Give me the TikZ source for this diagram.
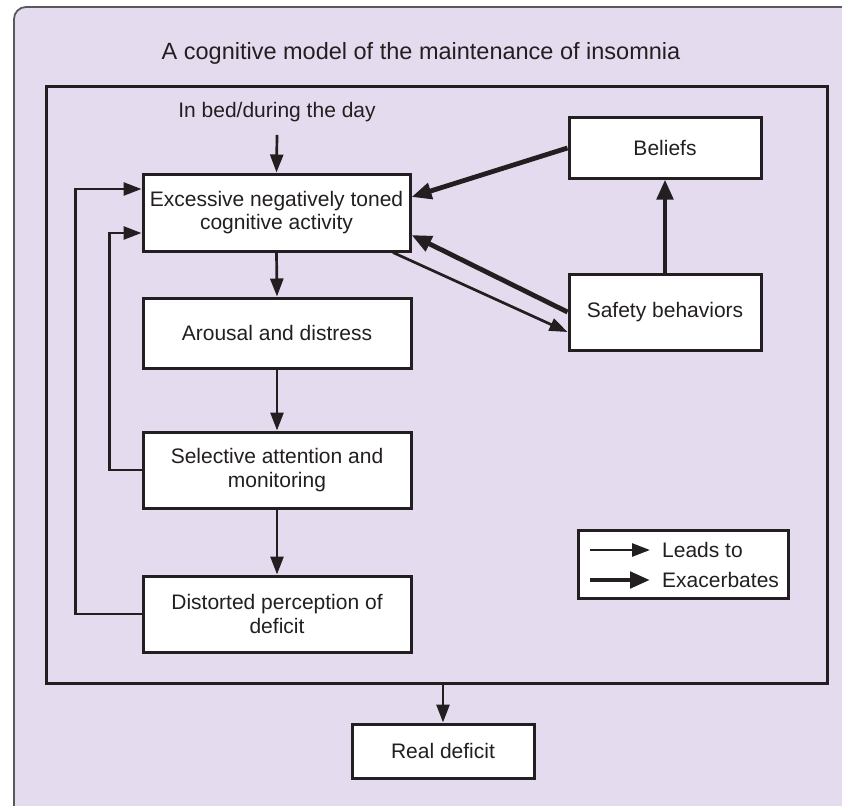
\documentclass[tikz,border=0pt]{standalone}
\usepackage{fontspec}
\setmainfont{Liberation Sans}
\usetikzlibrary{arrows.meta}
\definecolor{bgpurple}{HTML}{E4DCEE}
\definecolor{ink}{HTML}{231F20}
\definecolor{rim}{HTML}{5A585C}
\tikzset{
  box/.style={draw=ink, line width=3pt, fill=white, inner sep=0pt, align=center,
    text=ink, font=\fontsize{21}{23.5}\selectfont},
  lbl/.style={inner sep=0pt, text=ink, font=\fontsize{21}{23.5}\selectfont},
  lead/.style={draw=ink, line width=2.7pt, -{Triangle[length=18pt,width=13pt]}},
  exac/.style={draw=ink, line width=4.8pt, -{Triangle[length=20pt,width=16pt]}},
}
\begin{document}
\begin{tikzpicture}[x=1pt,y=-1pt]
\useasboundingbox (0,0) rectangle (842,805);
% background panel
\draw[rim, line width=1.8pt, fill=bgpurple, rounded corners=12pt] (14,7) rectangle (870,830);
% title
\node[lbl, font=\fontsize{23.5}{26}\selectfont] (title) at (421,53) {A cognitive model of the maintenance of insomnia};
% inner frame
\draw[ink, line width=3pt] (46,87) rectangle (827,683);
\coordinate (fb) at (443,683);
% boxes
\node[lbl] (inbed) at (277,112) {In bed/during the day};
\node[box, minimum width=267pt, minimum height=77pt] (exc) at (276.5,212.5) {Excessive negatively toned\\cognitive activity};
\node[box, minimum width=268pt, minimum height=70pt] (aro) at (277,333) {Arousal and distress};
\node[box, minimum width=268pt, minimum height=76pt] (sel) at (277,470) {Selective attention and\\monitoring};
\node[box, minimum width=268pt, minimum height=76pt] (dis) at (277,614) {Distorted perception of\\deficit};
\node[box, minimum width=192pt, minimum height=60pt] (bel) at (665,148) {Beliefs};
\node[box, minimum width=192pt, minimum height=76pt] (saf) at (665,312) {Safety behaviors};
\node[box, minimum width=182pt, minimum height=54pt] (real) at (443,751) {Real deficit};
% legend
\node[box, minimum width=210pt, minimum height=68pt] (leg) at (683,564) {};
\coordinate (l1a) at (590,550);
\coordinate (l1b) at (650,550);
\coordinate (l2a) at (590,580);
\coordinate (l2b) at (650,580);
\draw[lead] (l1a) -- (l1b);
\draw[exac] (l2a) -- (l2b);
\node[lbl, anchor=west] (leadsto) at (662,550) {Leads to};
\node[lbl, anchor=west] (exacerb) at (662,580) {Exacerbates};
% main chain
\draw[lead] ([yshift=-13pt]inbed.south) -- (exc.north);
\draw[lead] (exc.south) -- (aro.north);
\draw[lead] (aro.south) -- (sel.north);
\draw[lead] (sel.south) -- (dis.north);
% feedback loops
\draw[lead] (dis.west) -- ++(-66,0) |- ([yshift=23.5pt]exc.west);
\draw[lead] (sel.west) -- ++(-32,0) |- ([yshift=-20.5pt]exc.west);
% right side
\draw[exac] (bel.west) -- ([yshift=15.5pt]exc.east);
\draw[exac] (saf.west) -- ([yshift=-22.5pt]exc.east);
\draw[lead] ([xshift=116.5pt]exc.south) -- ([yshift=-20pt]saf.west);
\draw[exac] (saf.north) -- (bel.south);
% to real deficit
\draw[lead] (fb) -- (real.north);
\end{tikzpicture}
\end{document}
